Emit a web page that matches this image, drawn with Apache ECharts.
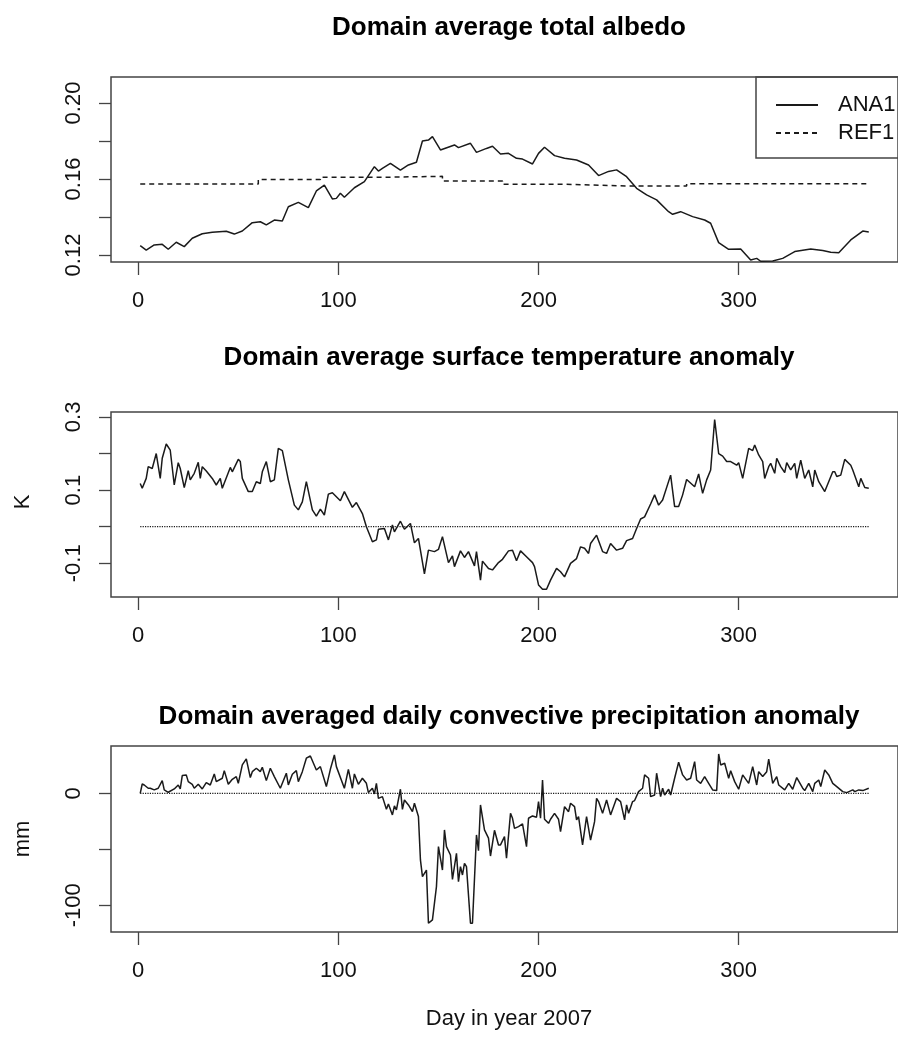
<!DOCTYPE html>
<html>
<head>
<meta charset="utf-8">
<script src="https://cdn.jsdelivr.net/npm/echarts@6/dist/echarts.min.js"></script>
<style>
html, body { margin: 0; background: #fff; }
#chart { width: 898px; height: 1041px; }
</style>
</head>
<body>
<div id="chart"></div>
<script>
// day of year 2007 -> value
var albedoAna = [
  [1,0.1249],[4,0.1226],[8,0.1253],[12,0.1256],[15,0.123],[19,0.1267],[23,0.1244],[27,0.1288],[32,0.1312],[37,0.132],
  [44,0.1325],[48,0.131],[52,0.1326],[57,0.137],[61,0.1375],[64,0.1358],[68,0.1384],[72,0.1379],[75,0.1454],[80,0.1477],
  [85,0.1449],[89,0.1537],[93,0.1568],[97,0.1495],[99,0.1498],[101,0.1525],[103,0.1504],[108,0.1554],[113,0.1586],[118,0.1665],
  [120,0.1642],[122,0.1656],[126,0.1682],[131,0.1647],[135,0.1674],[139,0.1688],[142,0.18],[145,0.1805],[147,0.1823],[151,0.1753],
  [158,0.1779],[160,0.1765],[166,0.1788],[169,0.174],[174,0.1761],[177,0.1772],[181,0.1732],[185,0.1735],[189,0.1709],[192,0.1705],
  [197,0.1679],[200,0.1735],[203,0.1767],[208,0.1723],[213,0.1709],[219,0.17],[225,0.1674],[230,0.1618],[235,0.164],[239,0.1648],
  [244,0.1612],[249,0.1551],[254,0.1516],[259,0.149],[265,0.1428],[267,0.1414],[271,0.1428],[277,0.1402],[283,0.1384],[286,0.1367],
  [290,0.1265],[295,0.123],[301,0.1232],[306,0.1174],[309,0.1182],[311,0.1167],[317,0.1168],[322,0.1182],[328,0.1218],[336,0.1232],
  [342,0.1223],[346,0.1214],[350,0.1212],[356,0.1279],[362,0.1326],[365,0.1321]
];

// REF1 albedo is constant within each month
var refMonthStart = [1, 32, 60, 91, 121, 152, 182, 213, 244, 274, 305, 335, 365];
var refAlbedo = [0.1574, 0.1574, 0.1598, 0.1609, 0.1614, 0.1589, 0.1572, 0.1563, 0.1563, 0.1575, 0.1575, 0.1575, 0.1575];

var tempAna = [
  [1,0.118],[2,0.105],[4,0.132],[5,0.164],[7,0.159],[9,0.200],[11,0.132],[12,0.187],[14,0.226],[16,0.209],
  [18,0.114],[20,0.175],[21,0.159],[23,0.107],[25,0.153],[26,0.128],[28,0.146],[30,0.176],[31,0.132],[32,0.164],
  [34,0.152],[37,0.132],[39,0.114],[41,0.132],[42,0.105],[46,0.162],[47,0.150],[50,0.184],[51,0.178],[52,0.132],
  [55,0.096],[57,0.096],[59,0.123],[61,0.118],[62,0.150],[64,0.178],[66,0.123],[68,0.128],[70,0.214],[72,0.208],
  [75,0.128],[78,0.059],[80,0.046],[82,0.068],[84,0.123],[87,0.046],[89,0.029],[91,0.048],[93,0.032],[95,0.089],
  [97,0.093],[101,0.071],[103,0.096],[107,0.053],[109,0.066],[112,0.036],[114,0],[117,-0.041],[119,-0.036],[120,-0.007],
  [123,-0.005],[125,-0.036],[127,0.005],[128,-0.014],[131,0.015],[133,-0.007],[136,0.009],[138,-0.044],[140,-0.032],[143,-0.129],
  [145,-0.064],[148,-0.068],[150,-0.062],[152,-0.027],[155,-0.098],[157,-0.080],[158,-0.109],[161,-0.066],[163,-0.084],[165,-0.068],
  [168,-0.107],[169,-0.068],[171,-0.146],[172,-0.094],[175,-0.114],[177,-0.118],[180,-0.098],[182,-0.089],[185,-0.066],[187,-0.064],
  [189,-0.093],[191,-0.066],[194,-0.082],[197,-0.098],[198,-0.109],[200,-0.159],[202,-0.171],[204,-0.171],[206,-0.146],[209,-0.114],
  [211,-0.123],[213,-0.137],[216,-0.100],[219,-0.087],[221,-0.055],[223,-0.059],[225,-0.073],[226,-0.046],[229,-0.023],[232,-0.068],
  [234,-0.073],[236,-0.046],[239,-0.064],[242,-0.059],[244,-0.038],[247,-0.032],[249,-0.005],[251,0.021],[253,0.027],[256,0.062],
  [258,0.087],[260,0.059],[262,0.073],[266,0.141],[268,0.055],[270,0.055],[272,0.087],[274,0.129],[278,0.109],[280,0.144],
  [282,0.091],[284,0.128],[286,0.155],[288,0.293],[290,0.200],[292,0.193],[294,0.178],[296,0.178],[299,0.168],[300,0.175],
  [302,0.132],[305,0.214],[307,0.208],[308,0.223],[310,0.196],[312,0.178],[313,0.132],[315,0.164],[316,0.173],[318,0.146],
  [319,0.187],[321,0.164],[323,0.148],[324,0.175],[326,0.155],[328,0.173],[329,0.132],[331,0.182],[333,0.132],[335,0.155],
  [337,0.109],[338,0.155],[340,0.123],[343,0.096],[347,0.150],[348,0.150],[349,0.137],[351,0.141],[353,0.184],[356,0.168],
  [357,0.155],[360,0.109],[361,0.132],[363,0.107],[365,0.105]
];

var precipAna = [
  [1,0],[2,8.3],[3,7.4],[5,4.5],[6,4.5],[8,3],[10,4.5],[12,11.3],[13,3],[15,0.9],
  [18,3.9],[20,7.4],[21,3.9],[22,15.8],[24,16.4],[25,10.4],[27,8],[28,4.5],[30,8],[32,3.9],
  [34,9.5],[36,7.4],[38,17.3],[39,10.4],[42,13.4],[43,20.2],[45,8],[47,12.5],[49,14.9],[50,8.9],
  [52,25.3],[54,30.7],[56,14],[57,19.3],[59,22.3],[61,19.3],[62,23.2],[64,11.3],[66,22.3],[68,14.9],
  [71,4.5],[74,17.9],[75,7.4],[77,17],[79,20.2],[80,10.4],[82,19.3],[84,31.3],[86,33.3],[89,20.8],
  [91,23.8],[94,6],[96,21.4],[98,34.2],[99,23.8],[103,4.5],[105,21.4],[107,4.5],[108,17.3],[110,8],
  [112,13.4],[114,8.9],[115,0.6],[117,4.5],[118,-0.6],[119,8.9],[120,-4.5],[122,-3],[124,-14.3],[125,-9.5],
  [127,-19.3],[128,-11.3],[129,-14.9],[131,3.6],[132,-14.3],[133,-6],[135,-10.4],[137,-16.4],[138,-8.9],[140,-20.8],
  [141,-59.5],[142,-74.4],[144,-68.5],[145,-116],[147,-113],[149,-83.3],[150,-47.6],[152,-68.5],[153,-32.7],[154,-47.6],
  [156,-55.1],[157,-76.8],[159,-53.6],[160,-78.9],[161,-65.5],[162,-72.9],[163,-62.5],[164,-65.5],[166,-116],[167,-116],
  [169,-37.2],[170,-51.2],[171,-10.4],[173,-32.7],[175,-40],[176,-56],[178,-33],[180,-46.1],[181,-46.1],[183,-38.7],
  [184,-58],[186,-17.9],[187,-22.3],[188,-31.3],[190,-29.8],[192,-27.4],[194,-47.6],[195,-22.3],[197,-20.2],[199,-21.4],
  [200,-7.4],[201,-22.3],[202,11.9],[203,-23.2],[205,-26.8],[206,-23.2],[208,-17.9],[210,-23.2],[211,-34.2],[213,-11.9],
  [215,-16.4],[216,-8.9],[218,-11.9],[219,-23.8],[220,-20.8],[222,-46.1],[224,-20.8],[226,-41.7],[228,-25.3],[229,-4.5],
  [230,-7.4],[232,-17.9],[234,-6],[236,-19.3],[239,-4.5],[241,-7.4],[243,-23.8],[244,-10.4],[245,-17.9],[247,-7.4],
  [248,-6.5],[250,1.5],[252,4.5],[253,16.4],[255,13.4],[256,-3],[258,-1.5],[259,17.9],[261,-3],[262,4.5],
  [263,-1.5],[265,3.6],[266,-1.5],[268,13.4],[270,27.7],[272,16.4],[274,11.9],[276,13.4],[278,28.3],[279,11.9],
  [281,8.9],[283,14.9],[285,8.9],[287,3],[289,2.4],[290,35.1],[291,25.3],[293,26.8],[295,13.4],[296,20.2],
  [298,10.4],[300,3.6],[302,16.4],[305,8.9],[307,23.8],[309,7.4],[310,19.3],[312,14.9],[314,19.3],[315,30.4],
  [317,8.9],[319,14.9],[320,7.4],[323,3],[325,8.9],[327,3.6],[329,14],[332,4.5],[333,2.4],[335,8.9],
  [337,1.5],[338,8.9],[340,11.9],[341,6],[343,20.8],[345,16.4],[347,8.9],[349,6],[352,1.5],[354,0.6],
  [357,3],[358,1.5],[360,3],[362,2.4],[365,4.5]
];

// reference run for the anomaly panels (zero anomaly)
var refAnomalyDays = [1, 365];
var refAnomaly = [0, 0];

var dayTicks = [0, 100, 200, 300];
var albedoTicks = [0.12, 0.14, 0.16, 0.18, 0.20];
var albedoLabels = [0.12, 0.16, 0.20];
var tempTicks = [-0.1, 0, 0.1, 0.2, 0.3];
var tempLabels = [-0.1, 0.1, 0.3];
var precipTicks = [-100, -50, 0];
var precipLabels = [-100, 0];

var font = '"Liberation Sans", Arial, Helvetica, sans-serif';
var ink = '#1a1a1a';
var frame = '#444';

function pairs(xs, ys) {
  return xs.map(function (x, i) { return [x, ys[i]]; });
}

function xAxisFor(grid) {
  return {
    type: 'value', gridIndex: grid, min: -13.6, max: 379.6,
    splitLine: { show: false },
    axisLine: { show: false, onZero: false },
    axisTick: { show: true, length: 13, customValues: dayTicks, lineStyle: { color: frame, width: 1.3 } },
    axisLabel: { customValues: dayTicks, margin: 28, fontSize: 22, fontFamily: font, color: '#111' }
  };
}

function yAxisFor(grid, min, max, ticks, labels, digits) {
  return {
    type: 'value', gridIndex: grid, min: min, max: max,
    splitLine: { show: false },
    axisLine: { show: false, onZero: false },
    axisTick: { show: true, length: 12, customValues: ticks, lineStyle: { color: frame, width: 1.3 } },
    axisLabel: {
      customValues: labels, rotate: 90, margin: 26, fontSize: 22, fontFamily: font, color: '#111',
      formatter: function (v) { return v.toFixed(digits); }
    }
  };
}

function lineSeries(name, grid, data, dash) {
  return {
    name: name, type: 'line', xAxisIndex: grid, yAxisIndex: grid,
    data: data, symbol: 'none', silent: true,
    itemStyle: { color: ink },
    lineStyle: { color: ink, width: dash === 'dotted' ? 1.2 : 1.5, type: dash || 'solid' }
  };
}

function title(text, y) {
  return { type: 'text', x: 509, y: y, style: { text: text, font: 'bold 26px ' + font, fill: '#000', textAlign: 'center', textVerticalAlign: 'middle' } };
}

var gridBox = { show: true, borderColor: frame, borderWidth: 1.5, backgroundColor: 'transparent' };

var myChart = echarts.init(document.getElementById('chart'));
var option = {
  animation: false,
  backgroundColor: '#fff',
  grid: [
    Object.assign({ left: 111, top: 77, width: 796, height: 185 }, gridBox),
    Object.assign({ left: 111, top: 412, width: 796, height: 185 }, gridBox),
    Object.assign({ left: 111, top: 746, width: 796, height: 186 }, gridBox)
  ],
  xAxis: [xAxisFor(0), xAxisFor(1), xAxisFor(2)],
  yAxis: [
    yAxisFor(0, 0.1163, 0.2137, albedoTicks, albedoLabels, 2),
    yAxisFor(1, -0.192, 0.3134, tempTicks, tempLabels, 1),
    yAxisFor(2, -123.8, 42.2, precipTicks, precipLabels, 0)
  ],
  legend: {
    data: ['ANA1', 'REF1'],
    orient: 'vertical', left: 756, top: 77,
    padding: [17, 20, 14, 19],
    itemWidth: 42, itemHeight: 14, itemGap: 6,
    borderColor: frame, borderWidth: 1.5,
    selectedMode: false,
    itemStyle: { opacity: 0 },
    textStyle: { fontSize: 22, lineHeight: 22, fontFamily: font, color: '#111', padding: [0, 0, 0, 15] }
  },
  graphic: [
    title('Domain average total albedo', 28),
    title('Domain average surface temperature anomaly', 358),
    title('Domain averaged daily convective precipitation anomaly', 717),
    { type: 'text', x: 23, y: 502, rotation: Math.PI / 2, style: { text: 'K', font: '22px ' + font, fill: '#111', textAlign: 'center', textVerticalAlign: 'middle' } },
    { type: 'text', x: 23, y: 839, rotation: Math.PI / 2, style: { text: 'mm', font: '22px ' + font, fill: '#111', textAlign: 'center', textVerticalAlign: 'middle' } },
    { type: 'text', x: 509, y: 1019, style: { text: 'Day in year 2007', font: '22px ' + font, fill: '#111', textAlign: 'center', textVerticalAlign: 'middle' } }
  ],
  series: [
    lineSeries('ANA1', 0, albedoAna),
    Object.assign(lineSeries('REF1', 0, pairs(refMonthStart, refAlbedo), [5, 4]), { step: 'end' }),
    lineSeries('ANA1 temperature', 1, tempAna),
    lineSeries('REF1 temperature', 1, pairs(refAnomalyDays, refAnomaly), 'dotted'),
    lineSeries('ANA1 precipitation', 2, precipAna),
    lineSeries('REF1 precipitation', 2, pairs(refAnomalyDays, refAnomaly), 'dotted')
  ]
};
myChart.setOption(option);
</script>
</body>
</html>
